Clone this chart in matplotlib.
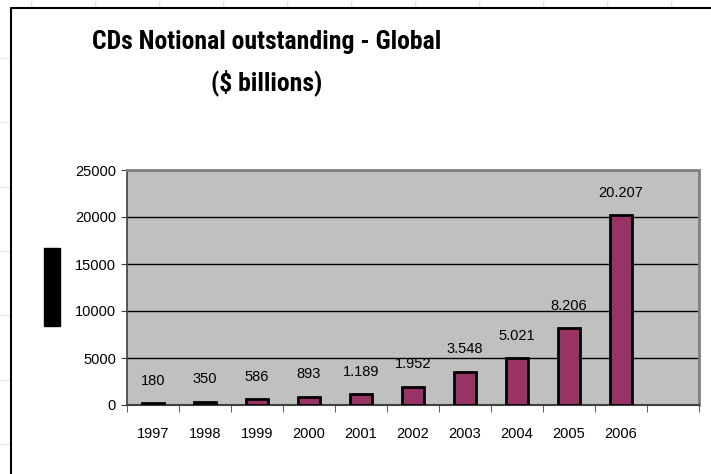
import matplotlib.pyplot as plt
import numpy as np
from matplotlib.patches import Rectangle
from matplotlib.lines import Line2D

plt.rcParams['font.family'] = ['Liberation Sans', 'DejaVu Sans']

years = ['1997', '1998', '1999', '2000', '2001', '2002', '2003', '2004', '2005', '2006']
values = [180, 350, 586, 893, 1189, 1952, 3548, 5021, 8206, 20207]
value_labels = ['180', '350', '586', '893', '1.189', '1.952', '3.548', '5.021', '8.206', '20.207']
yticks = [0, 5000, 10000, 15000, 20000, 25000]

W, H = 711, 474
fig = plt.figure(figsize=(W / 100, H / 100), dpi=100)
fig.patch.set_facecolor('white')

# faint slide background marks outside the chart box
for x in np.arange(31, W, 64):
    fig.add_artist(Line2D([x / W, x / W], [1 - 1 / H, 1 - 6 / H], color='#dde5f7', lw=1))
for y in np.arange(58, H, 64.3):
    fig.add_artist(Line2D([1 / W, 8 / W], [1 - y / H, 1 - y / H], color='#dde5f7', lw=1))

# chart box border
fig.add_artist(Line2D([11 / W, 11 / W, 1], [0, 1 - 8 / H, 1 - 8 / H], color='black', lw=1.5))

# redacted y label block
fig.add_artist(Rectangle((44 / W, 1 - 326 / H), 16 / W, 78 / H, color='black'))

title_font = ['Roboto Condensed', 'DejaVu Sans Condensed', 'Liberation Sans']
fig.text(267 / W, 1 - 42 / H, 'CDs Notional outstanding - Global', ha='center', va='center',
         fontsize=18.5, fontweight='bold', family=title_font, stretch='condensed')
fig.text(267 / W, 1 - 83 / H, '($ billions)', ha='center', va='center',
         fontsize=18.5, fontweight='bold', family=title_font, stretch='condensed')

ax = fig.add_axes([127 / W, 1 - 405 / H, 572 / W, 235 / H])
ax.set_facecolor('#c0c0c0')

n = len(years) + 1
x = np.arange(len(years))
ax.bar(x, values, width=0.44, color='#993366', edgecolor='black', linewidth=2, zorder=3)

for xi, v, lab in zip(x, values, value_labels):
    ax.annotate(lab, (xi, v), xytext=(0, 11), textcoords='offset points',
                ha='center', va='bottom', fontsize=10.5)

ax.set_xlim(-0.5, n - 0.5)
ax.set_ylim(0, 25000)
ax.set_yticks(yticks)
ax.set_yticklabels([str(t) for t in yticks], fontsize=10.5)
ax.yaxis.grid(True, color='black', lw=1, zorder=1)
ax.set_axisbelow(True)

ax.set_xticks(x)
ax.set_xticklabels(years, fontsize=10.5)
ax.set_xticks(np.arange(n + 1) - 0.5, minor=True)
ax.tick_params(axis='x', which='major', length=0, pad=16)
ax.tick_params(axis='x', which='minor', length=5, color='#404040', direction='out')
ax.tick_params(axis='y', length=4, color='#404040', direction='out', pad=4)

for side in ['top', 'right']:
    ax.spines[side].set_color('#808080')
    ax.spines[side].set_linewidth(2)
ax.spines['left'].set_color('#404040')
ax.spines['bottom'].set_color('#404040')
ax.spines['left'].set_linewidth(1.2)
ax.spines['bottom'].set_linewidth(1.5)

fig.savefig('out.png', dpi=100)
